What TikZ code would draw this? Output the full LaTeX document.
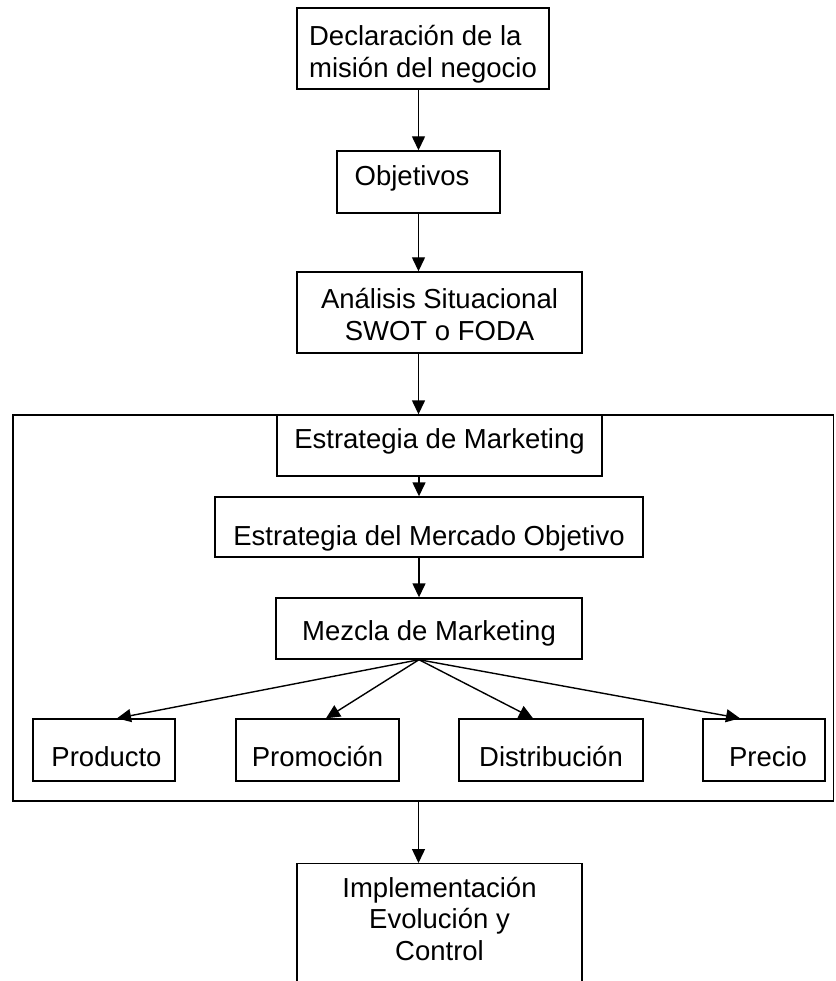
\documentclass[tikz,border=0pt]{standalone}
\usepackage{fontspec}
\setmainfont{Liberation Sans}
\usetikzlibrary{arrows.meta,calc}
\begin{document}
\begin{tikzpicture}[x=1pt,y=-1pt,
  font=\fontsize{27.5}{31.5}\selectfont,
  box/.style={draw=black,line width=1.4pt,rectangle,inner sep=0pt,fill=white},
  bl/.style={text height=20pt+#1pt,text depth=20pt-#1pt},
  blm/.style={text height=35pt+#1pt,text depth=35pt-#1pt},
  arr/.style={line width=1.4pt,-{Triangle[length=14pt,width=13pt]}}]
\useasboundingbox (0,0) rectangle (835,981);
\clip (0,0) rectangle (835,981);
\coordinate (spine) at (418.5,0);
% outer frame
\node[box,fill=none,minimum width=820.5,minimum height=386] (frame) at (423.25,608) {};
% top chain
\node[box,minimum width=252,minimum height=81,align=left,blm=29] (mision) at (423,48.5) {Declaración de la\\misión del negocio};
\node[box,minimum width=163,minimum height=62,bl=4] (obj) at (418.5,182) {Objetivos\hspace*{13pt}};
\node[box,minimum width=285,minimum height=81,align=center,blm=27.5] (ana) at (439.5,312.5) {Análisis Situacional\\SWOT o FODA};
% inside frame
\node[box,minimum width=325,minimum height=61,bl=2.5] (emk) at (439.5,445.5) {Estrategia de Marketing};
\node[box,minimum width=428,minimum height=60,bl=18] (merc) at (429,527) {Estrategia del Mercado Objetivo};
\node[box,minimum width=306,minimum height=61,bl=11.5] (mezcla) at (429,628.5) {Mezcla de Marketing};
\node[box,minimum width=142,minimum height=62,bl=16.5] (prod) at (104,750) {\hspace*{5pt}Producto};
\node[box,minimum width=163,minimum height=62,bl=16.5] (prom) at (317.5,750) {Promoción};
\node[box,minimum width=184,minimum height=62,bl=16.5] (dist) at (551,750) {Distribución};
\node[box,minimum width=122,minimum height=62,bl=16.5] (prec) at (764,750) {\hspace*{8pt}Precio};
% bottom
\node[box,minimum width=285,minimum height=160,anchor=north] (impl) at (439.5,863) {};
\node[align=center,inner sep=0pt,anchor=base] (impltxt) at (439.5,960) {Implementación\\Evolución y\\Control};
% connectors
\draw[arr] (spine |- mision.south) -- (spine |- obj.north);
\draw[arr] (spine |- obj.south) -- (spine |- ana.north);
\draw[arr] (spine |- ana.south) -- (spine |- frame.north);
\draw[arr] ($(spine |- emk.south)+(0.5,0)$) -- ($(spine |- merc.north)+(0.5,0)$);
\draw[arr] ($(spine |- merc.south)+(0.5,0)$) -- ($(spine |- mezcla.north)+(0.5,0)$);
\coordinate (hub) at ($(spine |- mezcla.south)+(0.5,0)$);
\draw[arr] (hub) -- ($(prod.north)+(13,0)$);
\draw[arr] (hub) -- ($(prom.north)+(8.5,0)$);
\draw[arr] (hub) -- ($(dist.north)+(-18,0)$);
\draw[arr] (hub) -- ($(prec.north)+(-24,0)$);
\draw[arr] (spine |- frame.south) -- (spine |- impl.north);
\end{tikzpicture}
\end{document}
